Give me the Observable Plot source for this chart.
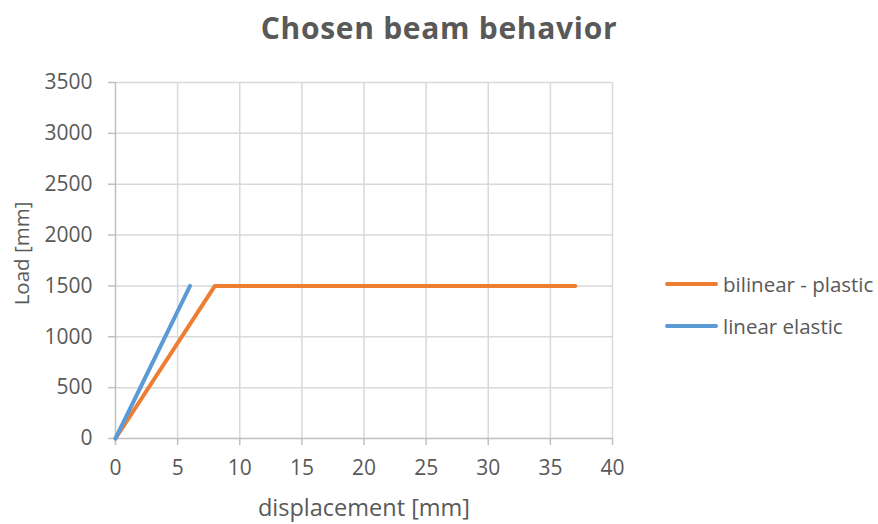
<!DOCTYPE html>
<html>
<head>
<meta charset="utf-8">
<script src="https://cdn.jsdelivr.net/npm/d3@7"></script>
<script src="https://cdn.jsdelivr.net/npm/@observablehq/plot@0.6"></script>
<style>
  html, body { margin: 0; padding: 0; background: #fff; }
  #wrap { position: relative; width: 878px; height: 524px; font-family: "Open Sans", sans-serif; }
  #title { height: 60px; line-height: 56px; text-align: center; font-size: 30px; font-weight: bold; color: #595959; letter-spacing: 0.7px; }
  #legend { position: absolute; left: 665px; top: 263px; color: #595959; font-size: 20.5px; }
  .item { display: flex; align-items: center; height: 42px; }
  .sw { width: 53px; height: 4px; border-radius: 2px; margin-right: 5px; }
</style>
</head>
<body>
<div id="wrap">
  <div id="title">Chosen beam behavior</div>
  <div id="chart"></div>
  <div id="legend"></div>
</div>
<script>
const seriesNames = ["bilinear - plastic", "linear elastic"];
const seriesColors = ["#ED7D31", "#5B9BD5"];
const bilinearX = [0, 8, 37];
const bilinearY = [0, 1500, 1500];
const linearX = [0, 6];
const linearY = [0, 1500];
const xTicks = [0, 5, 10, 15, 20, 25, 30, 35, 40];
const yTicks = [0, 500, 1000, 1500, 2000, 2500, 3000, 3500];

const data = [
  ...bilinearX.map((x, i) => ({series: seriesNames[0], x, y: bilinearY[i]})),
  ...linearX.map((x, i) => ({series: seriesNames[1], x, y: linearY[i]}))
];

const chart = Plot.plot({
  width: 878,
  height: 464,
  marginTop: 22,
  marginBottom: 86,
  marginLeft: 115,
  marginRight: 266,
  style: {fontFamily: "'Open Sans', sans-serif", fontSize: "21px", color: "#595959", background: "white"},
  x: {domain: [0, 40], ticks: xTicks},
  y: {domain: [0, 3500], ticks: yTicks},
  color: {domain: seriesNames, range: seriesColors},
  marks: [
    Plot.gridX(xTicks.filter(d => d !== 0), {stroke: "#d9d9d9", strokeOpacity: 1, strokeWidth: 1.5}),
    Plot.gridY(yTicks.filter(d => d !== 0), {stroke: "#d9d9d9", strokeOpacity: 1, strokeWidth: 1.5}),
    Plot.ruleX([0], {stroke: "#bfbfbf", strokeWidth: 1.5}),
    Plot.ruleY([0], {stroke: "#bfbfbf", strokeWidth: 1.5}),
    Plot.axisX(xTicks, {tickSize: 7, tickPadding: 15, stroke: "#bfbfbf", fill: "#595959", strokeWidth: 1.5, label: null, fontSize: 21, tickFormat: d => String(d)}),
    Plot.axisY(yTicks, {tickSize: 7, tickPadding: 16, stroke: "#bfbfbf", fill: "#595959", strokeWidth: 1.5, label: null, fontSize: 21, tickFormat: d => String(d)}),
    Plot.text(["displacement [mm]"], {frameAnchor: "bottom", lineAnchor: "middle", textAnchor: "middle", dy: 70, fill: "#595959", fontSize: 23.5}),
    Plot.text(["Load [mm]"], {frameAnchor: "left", lineAnchor: "middle", textAnchor: "middle", dx: -93, dy: -7, rotate: -90, fill: "#595959", fontSize: 20.5}),
    Plot.line(data, {x: "x", y: "y", z: "series", stroke: "series", strokeWidth: 4, strokeLinecap: "round", strokeLinejoin: "round"})
  ]
});
document.getElementById("chart").appendChild(chart);

const legend = document.getElementById("legend");
seriesNames.forEach((name, i) => {
  const item = document.createElement("div");
  item.className = "item";
  const sw = document.createElement("div");
  sw.className = "sw";
  sw.style.background = seriesColors[i];
  const label = document.createElement("span");
  label.textContent = name;
  item.appendChild(sw);
  item.appendChild(label);
  legend.appendChild(item);
});
</script>
</body>
</html>
